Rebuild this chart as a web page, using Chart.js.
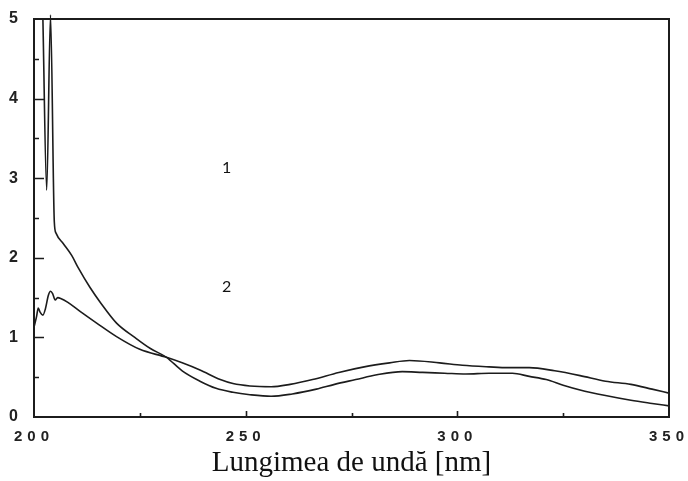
<!DOCTYPE html>
<html>
<head>
<meta charset="utf-8">
<script src="https://cdn.jsdelivr.net/npm/chart.js@4/dist/chart.umd.min.js"></script>
<style>
  html, body { margin: 0; padding: 0; background: #fff; }
  #wrap { width: 688px; height: 481px; }
</style>
</head>
<body>
<div id="wrap"><canvas id="c" width="688" height="481"></canvas></div>
<script>
// Absorption spectra, wavelength in nm, absorbance in absorbance units
const wavelength1 = [202.1, 203.0, 203.9, 204.8, 205.2, 206.9, 208.9, 210.5, 213.2, 215.8, 219.5, 223.8, 227.5, 231.3, 235.0, 239.2, 243.0, 247.0, 251.0, 256.0, 261.0, 266.7, 271.0, 276.0, 281.0, 287.0, 291.8, 297.0, 302.0, 307.5, 313.0, 317.0, 321.0, 325.0, 329.0, 335.0, 341.0, 346.0, 350.0];
const absorbance1 = [5.00, 2.85, 5.05, 2.45, 2.31, 2.18, 2.03, 1.87, 1.63, 1.43, 1.18, 1.00, 0.86, 0.75, 0.58, 0.45, 0.36, 0.31, 0.28, 0.26, 0.29, 0.35, 0.41, 0.47, 0.53, 0.57, 0.56, 0.55, 0.54, 0.55, 0.55, 0.51, 0.47, 0.40, 0.34, 0.27, 0.21, 0.17, 0.14];

const wavelength2 = [200.0, 200.6, 201.0, 201.4, 202.1, 202.7, 203.4, 203.9, 204.4, 205.0, 205.6, 206.3, 208.0, 210.8, 214.8, 219.5, 225.0, 231.3, 235.0, 239.2, 244.0, 247.0, 251.0, 256.0, 260.5, 265.8, 272.0, 278.0, 284.0, 288.7, 295.8, 301.2, 307.5, 312.0, 317.0, 323.0, 329.0, 335.0, 341.0, 346.0, 350.0];
const absorbance2 = [1.13, 1.26, 1.37, 1.32, 1.28, 1.36, 1.53, 1.58, 1.55, 1.47, 1.50, 1.49, 1.44, 1.33, 1.18, 1.01, 0.85, 0.75, 0.68, 0.59, 0.47, 0.42, 0.39, 0.38, 0.41, 0.47, 0.56, 0.63, 0.68, 0.71, 0.68, 0.65, 0.63, 0.62, 0.62, 0.58, 0.52, 0.45, 0.41, 0.35, 0.30];

const xTickValues = [200, 250, 300, 350];
const yTickValues = [0, 1, 2, 3, 4, 5];
const xMinorStep = 25;
const yMinorStep = 0.5;
const curveNames = ['1', '2'];
const xTitle = 'Lungimea de undă [nm]';

const toPoints = (xs, ys) => xs.map((x, i) => ({ x: x, y: ys[i] }));

const ink = '#1c1c1c';

// Frame, inward tick marks and curve numbers
const framePlugin = {
  id: 'framePlugin',
  afterDatasetsDraw(chart) {
    const { ctx, chartArea: a, scales: { x, y } } = chart;
    ctx.save();
    ctx.strokeStyle = ink;
    ctx.lineWidth = 2;
    ctx.strokeRect(a.left, a.top, a.right - a.left, a.bottom - a.top);

    ctx.lineWidth = 1.6;
    ctx.beginPath();
    for (let v = x.min + xMinorStep; v < x.max; v += xMinorStep) {
      const px = Math.round(x.getPixelForValue(v)) + 0.5;
      const len = (v % 50 === 0) ? 6 : 4;
      ctx.moveTo(px, a.bottom);
      ctx.lineTo(px, a.bottom - len);
    }
    for (let v = y.min + yMinorStep; v < y.max; v += yMinorStep) {
      const py = Math.round(y.getPixelForValue(v)) + 0.5;
      const len = (Math.abs(v - Math.round(v)) < 1e-6) ? 10 : 5;
      ctx.moveTo(a.left, py);
      ctx.lineTo(a.left + len, py);
    }
    ctx.stroke();

    // curve numbers, placed in data units
    ctx.fillStyle = '#111';
    ctx.font = '16px Lato, "Open Sans", sans-serif';
    ctx.textAlign = 'center';
    ctx.textBaseline = 'middle';
    const anchors = [[245.5, 3.13], [245.5, 1.64]];
    curveNames.forEach((t, i) => {
      ctx.fillText(t, x.getPixelForValue(anchors[i][0]), y.getPixelForValue(anchors[i][1]));
    });
    ctx.restore();

    // x tick labels are drawn after this hook, with wide letter spacing
    ctx.letterSpacing = '5px';
  },
  afterDraw(chart) {
    chart.ctx.letterSpacing = '0px';
  }
};

const lineStyle = {
  borderColor: ink,
  borderWidth: 1.6,
  pointRadius: 0,
  showLine: true,
  fill: false,
  cubicInterpolationMode: 'monotone',
  clip: { left: 0, right: 0, top: 8, bottom: 0 }
};

new Chart(document.getElementById('c'), {
  type: 'scatter',
  data: {
    datasets: [
      Object.assign({ label: curveNames[0], data: toPoints(wavelength1, absorbance1) }, lineStyle),
      Object.assign({ label: curveNames[1], data: toPoints(wavelength2, absorbance2) }, lineStyle)
    ]
  },
  options: {
    responsive: false,
    animation: false,
    devicePixelRatio: 1,
    layout: { padding: { top: 19, right: 19, left: 0, bottom: 0 } },
    plugins: {
      legend: { display: false },
      tooltip: { enabled: false }
    },
    scales: {
      x: {
        type: 'linear',
        min: 200,
        max: 350,
        afterBuildTicks: s => { s.ticks = xTickValues.map(v => ({ value: v })); },
        afterFit: s => { s.height = 64; s.paddingLeft = 0; s.paddingRight = 0; },
        grid: { display: false, drawTicks: false },
        border: { display: false },
        ticks: {
          z: 1,
          padding: 11,
          maxRotation: 0,
          autoSkip: false,
          color: '#222',
          font: { family: '"Liberation Sans", Arial, sans-serif', size: 15, weight: 'bold' }
        },
        title: {
          display: true,
          text: xTitle,
          color: '#111',
          font: { family: '"Liberation Serif", "Times New Roman", serif', size: 29 },
          padding: { top: 0, bottom: 0 }
        }
      },
      y: {
        type: 'linear',
        min: 0,
        max: 5,
        afterBuildTicks: s => { s.ticks = yTickValues.map(v => ({ value: v })); },
        afterFit: s => { s.width = 34; s.paddingTop = 0; s.paddingBottom = 0; },
        grid: { display: false, drawTicks: false },
        border: { display: false },
        ticks: {
          padding: 16,
          color: '#222',
          font: { family: '"Liberation Sans", Arial, sans-serif', size: 16, weight: 'bold' }
        }
      }
    }
  },
  plugins: [framePlugin]
});
</script>
</body>
</html>
